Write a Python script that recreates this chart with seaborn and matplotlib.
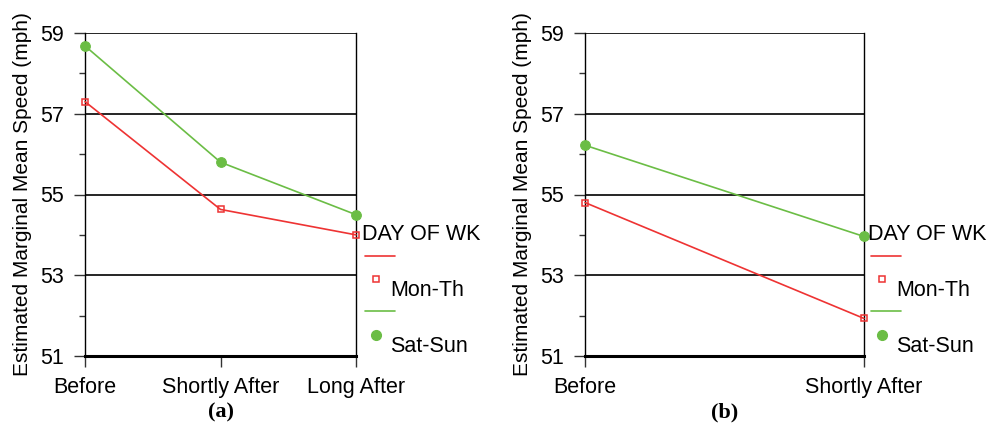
import matplotlib
matplotlib.use("Agg")
import matplotlib.pyplot as plt
import seaborn as sns
import pandas as pd
from matplotlib.lines import Line2D
from matplotlib.ticker import MultipleLocator

sns.set_theme(style="white")
plt.rcParams['font.family'] = ['Liberation Sans', 'DejaVu Sans']
plt.rcParams['text.color'] = 'black'
plt.rcParams['axes.labelcolor'] = 'black'
plt.rcParams['xtick.color'] = 'black'
plt.rcParams['ytick.color'] = 'black'

# ---- data ----
periods_a = ["Before", "Shortly After", "Long After"]
mon_th_a = [57.3, 54.63, 54.0]
sat_sun_a = [58.68, 55.8, 54.5]

periods_b = ["Before", "Shortly After"]
mon_th_b = [54.8, 51.93]
sat_sun_b = [56.22, 53.96]

groups = ["Mon-Th", "Sat-Sun"]
legend_title = "DAY OF WK"
ylabel = "Estimated Marginal Mean Speed (mph)"
captions = ["(a)", "(b)"]

RED = "#ee3333"
GREEN = "#6bbd45"
W, H = 989, 426
FS = 15.5

fig = plt.figure(figsize=(W / 100, H / 100), dpi=100)

def px(x, y):
    return x / W, 1 - y / H

def make_df(periods, mon, sat):
    rows = []
    for i, p in enumerate(periods):
        rows.append({"pos": i, "period": p, "group": groups[0], "speed": mon[i]})
        rows.append({"pos": i, "period": p, "group": groups[1], "speed": sat[i]})
    return pd.DataFrame(rows)

def draw_panel(rect, periods, mon, sat):
    ax = fig.add_axes(rect)
    df = make_df(periods, mon, sat)
    d1 = df[df.group == groups[0]]
    d2 = df[df.group == groups[1]]
    sns.lineplot(data=d1, x="pos", y="speed", ax=ax, color=RED, lw=1.2,
                 marker="s", markersize=5, markerfacecolor="none",
                 markeredgecolor=RED, markeredgewidth=1.1, clip_on=False, zorder=5)
    sns.lineplot(data=d2, x="pos", y="speed", ax=ax, color=GREEN, lw=1.2,
                 marker="o", markersize=7, markerfacecolor=GREEN,
                 markeredgecolor=GREEN, clip_on=False, zorder=5)
    ax.set_xlim(0, len(periods) - 1)
    ax.set_ylim(51, 59)
    ax.set_xticks(range(len(periods)))
    ax.set_xticklabels(periods, fontsize=FS, color="black")
    ax.set_yticks([51, 53, 55, 57, 59])
    ax.yaxis.set_minor_locator(MultipleLocator(1))
    ax.tick_params(axis="y", which="major", length=8, width=1, color="#333333",
                   labelsize=FS, labelcolor="black", pad=7, left=True, direction="out")
    ax.tick_params(axis="y", which="minor", length=4, width=1, color="#333333", left=True)
    ax.tick_params(axis="x", which="major", length=8, width=1, color="#333333",
                   labelsize=FS, labelcolor="black", pad=7, bottom=True, direction="out")
    ax.set_xlabel("")
    ax.set_ylabel(ylabel, fontsize=15, labelpad=6, color="black")
    for v in [53, 55, 57, 59]:
        ax.axhline(v, color="black", lw=1.2, zorder=1)
    for s in ["left", "right"]:
        ax.spines[s].set_visible(True)
        ax.spines[s].set_color("black")
        ax.spines[s].set_linewidth(1.0)
    ax.spines["bottom"].set_color("black")
    ax.spines["bottom"].set_linewidth(2.2)
    ax.spines["top"].set_visible(False)
    ax.set_facecolor("white")
    return ax

def draw_legend(x0):
    fig.text(*px(x0, 235), legend_title, fontsize=FS, ha="left", va="center")
    fig.add_artist(Line2D([px(x0 + 3, 0)[0], px(x0 + 33, 0)[0]],
                          [px(0, 256)[1]] * 2, color=RED, lw=1.2))
    fig.add_artist(Line2D([px(x0 + 14, 0)[0]], [px(0, 279)[1]], color=RED,
                          marker="s", markersize=5, markerfacecolor="none",
                          markeredgecolor=RED, markeredgewidth=1.1, lw=0))
    fig.text(*px(x0 + 28, 291), groups[0], fontsize=FS, ha="left", va="center")
    fig.add_artist(Line2D([px(x0 + 3, 0)[0], px(x0 + 33, 0)[0]],
                          [px(0, 311)[1]] * 2, color=GREEN, lw=1.2))
    fig.add_artist(Line2D([px(x0 + 14, 0)[0]], [px(0, 335)[1]], color=GREEN,
                          marker="o", markersize=7, markerfacecolor=GREEN,
                          markeredgecolor=GREEN, lw=0))
    fig.text(*px(x0 + 28, 346), groups[1], fontsize=FS, ha="left", va="center")

top, bottom = 33, 356
axa = draw_panel([85 / W, 1 - bottom / H, (356 - 85) / W, (bottom - top) / H],
                 periods_a, mon_th_a, sat_sun_a)
axb = draw_panel([585 / W, 1 - bottom / H, (864 - 585) / W, (bottom - top) / H],
                 periods_b, mon_th_b, sat_sun_b)

draw_legend(362)
draw_legend(868)

fig.text(*px(221, 412), captions[0], fontsize=16, fontweight="bold",
         family=["Liberation Serif", "DejaVu Serif"], ha="center", va="center")
fig.text(*px(725, 412), captions[1], fontsize=16, fontweight="bold",
         family=["Liberation Serif", "DejaVu Serif"], ha="center", va="center")

fig.savefig("out.png", dpi=100, facecolor="white")
